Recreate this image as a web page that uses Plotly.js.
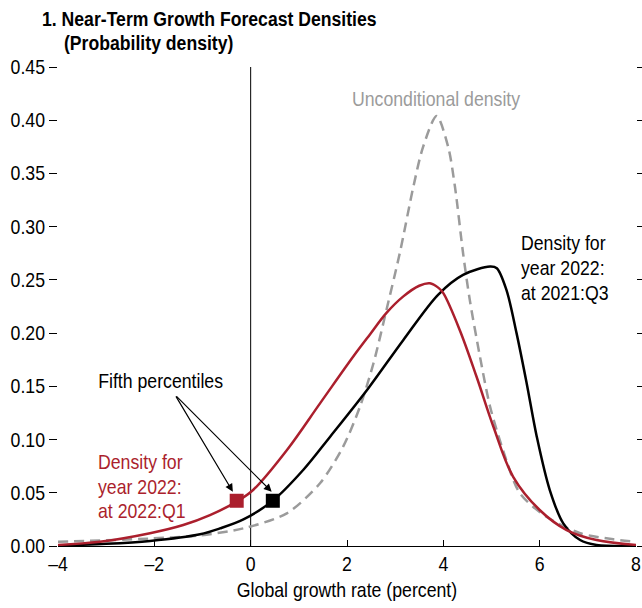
<!DOCTYPE html>
<html>
<head>
<meta charset="utf-8">
<script src="https://cdn.plot.ly/plotly-3.0.1.min.js"></script>
<style>html,body{margin:0;padding:0;background:#fff;}#chart{width:642px;height:608px;}</style>
</head>
<body>
<div id="chart"></div>
<script>
// Density for year 2022 at 2021:Q3 (black)
const q3X = [-4, -3, -2.09, -1.05, -0.64, -0.15, 0.46, 1.09, 1.65, 2.44, 3.17, 3.89, 4.41, 4.97, 5.11, 5.31, 5.52, 5.73, 5.94, 6.21, 6.49, 6.84, 7.18, 8];
const q3Y = [0.0005, 0.002, 0.0047, 0.011, 0.0165, 0.0250, 0.0426, 0.0714, 0.1027, 0.148, 0.1936, 0.236, 0.2547, 0.2625, 0.261, 0.2406, 0.200, 0.153, 0.1027, 0.0526, 0.0213, 0.0056, 0.001, 0.0];
// Density for year 2022 at 2022:Q1 (red)
const q1X = [-4, -3.13, -2.09, -1.4, -0.845, -0.29, 0.05, 0.75, 1.44, 2.13, 2.48, 2.82, 3.17, 3.50, 3.72, 3.90, 4.0, 4.34, 4.69, 5.04, 5.45, 6.0, 6.56, 7.18, 8];
const q1Y = [0.001, 0.004, 0.012, 0.0197, 0.029, 0.0417, 0.0526, 0.090, 0.134, 0.178, 0.199, 0.219, 0.2345, 0.2445, 0.2468, 0.2425, 0.2375, 0.203, 0.159, 0.112, 0.065, 0.0338, 0.015, 0.0056, 0.001];
// Unconditional density (gray dashed)
const uncX = [-4, -2.09, -1.05, -0.15, 0.75, 1.44, 1.92, 2.27, 2.55, 2.82, 3.10, 3.38, 3.58, 3.86, 4.10, 4.24, 4.41, 4.55, 4.76, 4.97, 5.24, 5.59, 6.14, 6.84, 7.53, 8];
const uncY = [0.004, 0.007, 0.010, 0.0166, 0.0307, 0.059, 0.0933, 0.131, 0.1717, 0.222, 0.276, 0.338, 0.375, 0.404, 0.375, 0.338, 0.275, 0.231, 0.178, 0.131, 0.090, 0.0495, 0.0275, 0.012, 0.0063, 0.004];
// Fifth percentiles
const pctX = [-0.29, 0.46];
const pctY = [0.0425, 0.0425];
const pctColors = ['#ab1f2d', '#000000'];
// Axis ticks
const xTickVals = [-4, -2, 0, 2, 4, 6, 8];
const xTickText = ['\u20134', '\u20132', '0', '2', '4', '6', '8'];
const yTickVals = [0, 0.05, 0.10, 0.15, 0.20, 0.25, 0.30, 0.35, 0.40, 0.45];
const yTickText = ['0.00', '0.05', '0.10', '0.15', '0.20', '0.25', '0.30', '0.35', '0.40', '0.45'];

const RED = '#ab1f2d';
const GRAY = '#9b9b9b';
const FONT = 'Liberation Sans, Arial, sans-serif';
const FS = 20;

const traces = [
  {x: [0, 0], y: [0, 0.45], mode: 'lines', line: {color: '#000', width: 1}, hoverinfo: 'skip', showlegend: false},
  {x: uncX, y: uncY, mode: 'lines', line: {color: GRAY, width: 2.5, dash: '10px,6px', shape: 'spline', smoothing: 0.8}, showlegend: false},
  {x: q3X, y: q3Y, mode: 'lines', line: {color: '#000', width: 2.5, shape: 'spline', smoothing: 0.9}, showlegend: false},
  {x: q1X, y: q1Y, mode: 'lines', line: {color: RED, width: 2.5, shape: 'spline', smoothing: 1.0}, showlegend: false},
  {x: pctX, y: pctY, mode: 'markers', marker: {symbol: 'square', size: 14, color: pctColors}, showlegend: false}
];

function txt(x, y, t, color, anchor) {
  const a = anchor || 'left';
  return {x: x, y: y, xref: 'x', yref: 'y', text: t, showarrow: false, xanchor: a, align: a, yanchor: 'middle', font: {family: FONT, size: FS, color: color}};
}

const annotations = [
  {x: -0.031, y: 1.102, xref: 'paper', yref: 'paper', text: '<b>1. Near-Term Growth Forecast Densities</b>', showarrow: false, xanchor: 'left', align: 'left', yanchor: 'middle', font: {family: FONT, size: 21, color: '#000'}},
  {x: 0.007, y: 1.052, xref: 'paper', yref: 'paper', text: '<b>(Probability density)</b>', showarrow: false, xanchor: 'left', align: 'left', yanchor: 'middle', font: {family: FONT, size: 21, color: '#000'}},
  txt(3.85, 0.42, 'Unconditional density', GRAY, 'center'),
  txt(5.57, 0.2848, 'Density for', '#000'),
  txt(5.57, 0.2613, 'year 2022:', '#000'),
  txt(5.57, 0.2378, 'at 2021:Q3', '#000'),
  txt(-3.21, 0.079, 'Density for', RED),
  txt(-3.21, 0.0555, 'year 2022:', RED),
  txt(-3.21, 0.0329, 'at 2022:Q1', RED),
  txt(-1.88, 0.155, 'Fifth percentiles', '#000', 'center'),
  {x: -0.37, y: 0.051, ax: -1.57, ay: 0.142, xref: 'x', yref: 'y', axref: 'x', ayref: 'y', text: '', showarrow: true, arrowhead: 2, arrowsize: 1.3, arrowwidth: 1.2, arrowcolor: '#000'},
  {x: 0.436, y: 0.051, ax: -1.57, ay: 0.142, xref: 'x', yref: 'y', axref: 'x', ayref: 'y', text: '', showarrow: true, arrowhead: 2, arrowsize: 1.3, arrowwidth: 1.2, arrowcolor: '#000'}
];

const layout = {
  width: 642, height: 608,
  margin: {l: 58, r: 6, t: 67, b: 62},
  paper_bgcolor: '#fff', plot_bgcolor: '#fff',
  showlegend: false,
  font: {family: FONT, size: FS, color: '#000'},
  xaxis: {
    range: [-4, 8], tickvals: xTickVals, ticktext: xTickText,
    showgrid: false, zeroline: false, showline: true, linecolor: '#000', linewidth: 1.2,
    ticks: 'inside', ticklen: 6, tickcolor: '#000', tickwidth: 1,
    tickfont: {family: FONT, size: FS, color: '#000'},
    title: {text: 'Global growth rate (percent)', font: {family: FONT, size: FS, color: '#000'}, standoff: 8}
  },
  yaxis: {
    range: [0, 0.45], tickvals: yTickVals, ticktext: yTickText,
    showgrid: false, zeroline: false, showline: false,
    ticks: 'outside', ticklen: 8, tickcolor: '#000', tickwidth: 1, mirror: 'ticks',
    tickfont: {family: FONT, size: FS, color: '#000'}
  },
  annotations: annotations
};

// Narrow the (real) text horizontally to mimic the condensed typeface of the original
function condense(gd) {
  gd.querySelectorAll('svg text').forEach(function (t) {
    if (!t.textContent) return;
    const bold = t.querySelector('tspan[style*="bold"]') !== null;
    const s = bold ? 0.84 : 0.885;
    const bb = t.getBBox();
    const anchor = t.getAttribute('text-anchor') || window.getComputedStyle(t).textAnchor;
    let p = bb.x + bb.width / 2;
    if (anchor === 'start') p = bb.x;
    else if (anchor === 'end') p = bb.x + bb.width;
    const prev = t.getAttribute('transform') || '';
    t.setAttribute('transform', prev + ' translate(' + p + ',0) scale(' + s + ',1) translate(' + (-p) + ',0)');
  });
}

Plotly.newPlot('chart', traces, layout, {displayModeBar: false, staticPlot: true}).then(condense);
</script>
</body>
</html>
